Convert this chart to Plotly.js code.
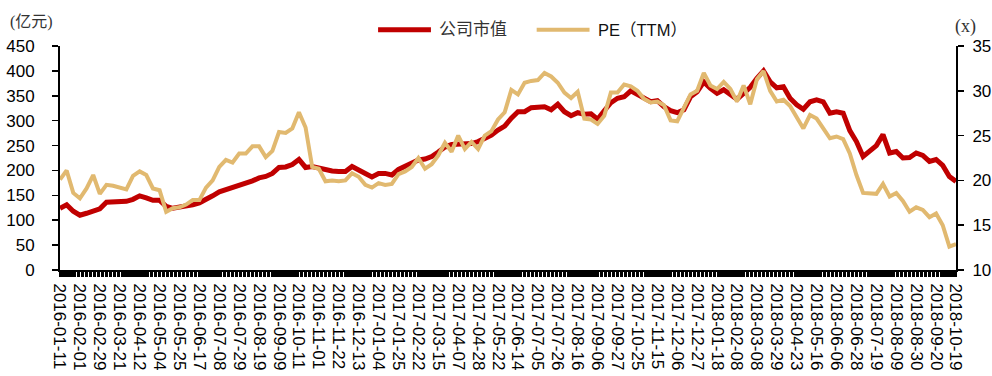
<!DOCTYPE html>
<html>
<head>
<meta charset="utf-8">
<script src="https://cdn.plot.ly/plotly-3.0.1.min.js"></script>
<style>
  html, body { margin: 0; padding: 0; background: #fff; }
  #chart { width: 992px; height: 376px; }
</style>
</head>
<body>
<div id="chart"></div>
<script>
// Trading-day axis labels (one every 15 trading days)
const tickDates = [
  '2016-01-11','2016-02-01','2016-02-29','2016-03-21','2016-04-12','2016-05-04','2016-05-25',
  '2016-06-17','2016-07-08','2016-07-29','2016-08-19','2016-09-09','2016-10-11','2016-11-01',
  '2016-11-22','2016-12-13','2017-01-04','2017-01-25','2017-02-22','2017-03-15','2017-04-07',
  '2017-04-28','2017-05-22','2017-06-14','2017-07-05','2017-07-26','2017-08-16','2017-09-06',
  '2017-09-27','2017-10-25','2017-11-15','2017-12-06','2017-12-27','2018-01-18','2018-02-08',
  '2018-03-08','2018-03-29','2018-04-23','2018-05-16','2018-06-06','2018-06-28','2018-07-19',
  '2018-08-09','2018-08-30','2018-09-20','2018-10-19'
];
const labelEvery = 15;   // trading days between labels
const sampleEvery = 5;   // trading days between samples

// 公司市值 (亿元), one sample every 5 trading days
const marketCap = [
  124,131,118,110,114,118,123,136,136,138,138,142,149,145,140,140,128,124,126,129,
  131,135,141,149,157,161,165,169,174,179,185,188,194,206,
  207,212,222,206,208,205,200,199,198,198,208,202,194,187,194,194,191,202,208,215,
  221,223,228,237,247,252,253,255,254,258,265,271,281,289,
  305,318,318,326,327,328,322,333,318,310,316,313,314,303,320,336,345,348,360,352,
  345,338,340,328,320,316,322,348,358,378,365,355,362,352,
  343,355,367,385,400,378,366,368,345,332,323,338,342,338,315,318,315,280,258,228,
  240,250,272,235,238,225,226,235,230,218,222,210,188,178
];

// PE (TTM), same sampling
const peTTM = [
  20.1,21.1,18.6,18.0,19.1,20.6,18.5,19.5,19.4,19.2,19.0,20.5,21.0,20.6,19.1,18.9,16.5,16.9,17.0,17.3,
  17.8,17.8,19.2,20.0,21.5,22.3,22.0,23.0,23.0,23.8,23.8,22.6,23.3,25.4,
  25.3,25.8,27.6,25.9,21.5,21.3,19.9,20.0,19.9,20.0,20.8,20.4,19.5,19.2,19.7,19.5,
  19.6,20.7,21.0,21.5,22.5,21.3,21.8,22.8,24.2,23.2,25.0,23.5,24.3,23.5,25.0,25.5,26.8,27.6,
  30.1,29.6,30.9,31.1,31.2,32.0,31.6,30.9,29.8,29.2,29.9,26.9,26.8,26.3,27.2,29.8,29.8,30.7,30.5,30.0,
  29.1,28.7,28.8,28.4,26.7,26.6,28.0,29.6,30.0,32.0,30.6,30.2,31.0,30.2,
  28.8,30.6,28.5,31.3,32.2,30.0,28.8,29.0,28.3,27.0,25.8,27.3,26.9,25.8,24.7,24.9,24.6,23.0,20.6,18.6,
  18.5,18.5,19.6,18.2,18.6,17.7,16.5,17.0,16.7,15.9,16.3,15.0,12.6,12.9
];

const seriesNames = ['公司市值', 'PE（TTM）'];
const RED = '#C00000';
const TAN = '#E1B970';

const dayIndex = marketCap.map((_, k) => k * sampleEvery);
const lastDay = (tickDates.length - 1) * labelEvery;

const traces = [
  // empty carrier so the labelled date axis gets drawn
  { x: [0, lastDay], y: [null, null], xaxis: 'x2', yaxis: 'y', type: 'scatter', mode: 'lines',
    showlegend: false, hoverinfo: 'skip', line: { width: 0 } },
  { x: dayIndex, y: marketCap, name: seriesNames[0], type: 'scatter', mode: 'lines',
    line: { color: RED, width: 5 }, xaxis: 'x', yaxis: 'y' },
  { x: dayIndex, y: peTTM, name: seriesNames[1], type: 'scatter', mode: 'lines',
    line: { color: TAN, width: 4 }, xaxis: 'x', yaxis: 'y2' }
];

const tickFont = { family: 'Liberation Sans, Arial, sans-serif', size: 17, color: '#000' };
const cjk = 'Liberation Sans, Noto Sans CJK SC, sans-serif';

const layout = {
  width: 992, height: 376,
  margin: { l: 60, r: 36, t: 46, b: 106 },
  paper_bgcolor: '#fff', plot_bgcolor: '#fff',
  showlegend: false,
  // one tick per trading day, no labels
  xaxis: {
    type: 'linear', range: [0, lastDay],
    tickmode: 'linear', tick0: 0, dtick: 1,
    showticklabels: false,
    ticks: 'outside', ticklen: 5, tickwidth: 1.1, tickcolor: '#000',
    showline: true, linecolor: '#000', linewidth: 1.5,
    showgrid: false, zeroline: false
  },
  // date labels every 15 trading days
  xaxis2: {
    type: 'linear', range: [0, lastDay],
    overlaying: 'x', anchor: 'y', side: 'bottom',
    tickmode: 'array',
    tickvals: tickDates.map((_, i) => i * labelEvery),
    ticktext: tickDates,
    tickangle: 90, tickfont: tickFont,
    ticks: 'outside', ticklen: 5, tickwidth: 1, tickcolor: '#000',
    ticklabelstandoff: 4,
    showline: false, showgrid: false, zeroline: false
  },
  yaxis: {
    range: [0, 450], dtick: 50, tick0: 0,
    tickfont: tickFont,
    ticks: 'outside', ticklen: 6, tickwidth: 1.5, tickcolor: '#000',
    ticklabelstandoff: 14,
    showline: true, linecolor: '#000', linewidth: 2,
    showgrid: false, zeroline: false
  },
  yaxis2: {
    overlaying: 'y', side: 'right', anchor: 'x',
    range: [10, 35], dtick: 5, tick0: 10,
    tickfont: tickFont,
    ticks: 'outside', ticklen: 6, tickwidth: 1.5, tickcolor: '#000',
    ticklabelstandoff: 5,
    showline: true, linecolor: '#000', linewidth: 2,
    showgrid: false, zeroline: false
  },
  shapes: [
    { type: 'line', xref: 'paper', yref: 'paper', x0: 0.355, x1: 0.414, y0: 1.072, y1: 1.072,
      line: { color: RED, width: 5 } },
    { type: 'line', xref: 'paper', yref: 'paper', x0: 0.532, x1: 0.591, y0: 1.072, y1: 1.072,
      line: { color: TAN, width: 4 } }
  ],
  annotations: [
    { text: seriesNames[0], xref: 'paper', yref: 'paper', x: 0.4205, y: 1.072,
      xanchor: 'left', yanchor: 'middle', showarrow: false,
      font: { family: cjk, size: 17, color: '#333' } },
    { text: seriesNames[1], xref: 'paper', yref: 'paper', x: 0.598, y: 1.072,
      xanchor: 'left', yanchor: 'middle', showarrow: false,
      font: { family: cjk, size: 16.5, color: '#111' } },
    { text: '(亿元)', xref: 'paper', yref: 'paper', x: -0.058, y: 1.107,
      xanchor: 'left', yanchor: 'middle', showarrow: false,
      font: { family: 'Liberation Serif, Noto Sans CJK SC, serif', size: 16, color: '#333' } },
    { text: '(x)', xref: 'paper', yref: 'paper', x: 0.997, y: 1.085,
      xanchor: 'left', yanchor: 'middle', showarrow: false,
      font: { family: 'Liberation Serif, serif', size: 18, color: '#333' } }
  ]
};

Plotly.newPlot('chart', traces, layout, { staticPlot: true, displayModeBar: false });
</script>
</body>
</html>
